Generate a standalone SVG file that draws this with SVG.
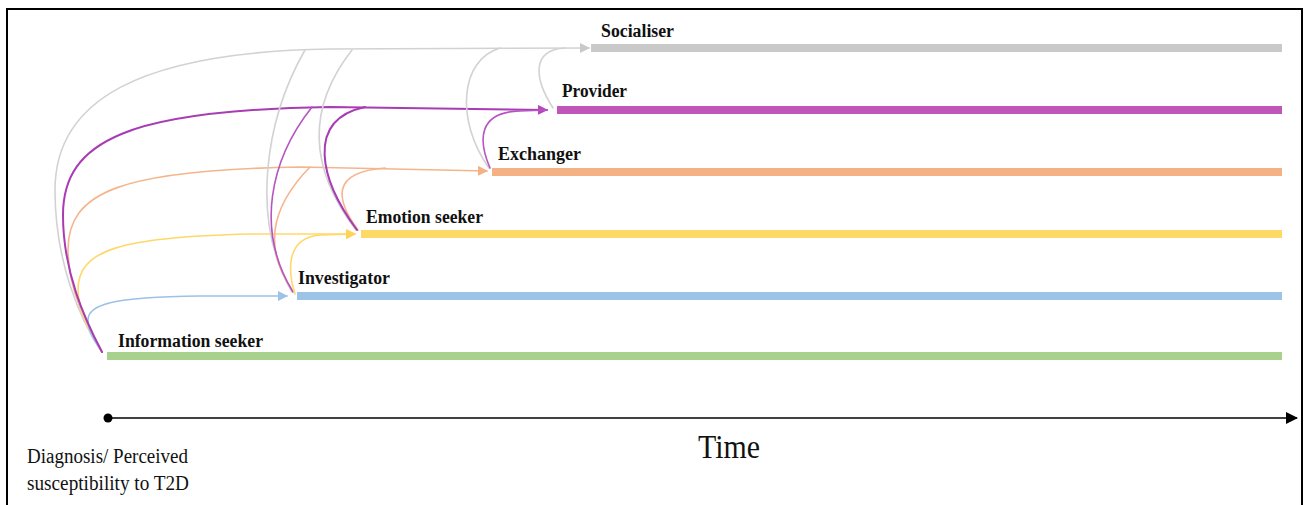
<svg xmlns="http://www.w3.org/2000/svg" width="1309" height="505" viewBox="0 0 1309 505">
  <defs>
    <style>
      .frame { fill: #ffffff; stroke: #000000; stroke-width: 2; }
      .bar { stroke-width: 8; fill: none; }
      .lbl { font-family: "Liberation Serif", "Times New Roman", serif; font-weight: bold; font-size: 18.5px; fill: #111111; }
      .note { font-family: "Liberation Serif", "Times New Roman", serif; font-size: 20px; fill: #111111; }
      .time { font-family: "Liberation Serif", "Times New Roman", serif; font-size: 34px; fill: #111111; }
      .c { fill: none; stroke-width: 1.6; stroke-linecap: round; }
      .gray { stroke: #d2d2d2; }
      .purple { stroke: #a83cb4; stroke-width: 2; }
      .purple2 { stroke: #b655c2; }
      .orange { stroke: #f5b58c; }
      .yellow { stroke: #ffd86a; }
      .blue { stroke: #9cc2e6; }
    </style>
    <marker id="ah-gray" markerWidth="10" markerHeight="10" refX="9" refY="5" orient="auto" markerUnits="userSpaceOnUse">
      <path d="M0,0 L10,5 L0,10 Z" fill="#c9c9c9"/>
    </marker>
    <marker id="ah-purple" markerWidth="10" markerHeight="10" refX="9" refY="5" orient="auto" markerUnits="userSpaceOnUse">
      <path d="M0,0 L10,5 L0,10 Z" fill="#b545bd"/>
    </marker>
    <marker id="ah-orange" markerWidth="10" markerHeight="10" refX="9" refY="5" orient="auto" markerUnits="userSpaceOnUse">
      <path d="M0,0 L10,5 L0,10 Z" fill="#f4b183"/>
    </marker>
    <marker id="ah-yellow" markerWidth="10" markerHeight="10" refX="9" refY="5" orient="auto" markerUnits="userSpaceOnUse">
      <path d="M0,0 L10,5 L0,10 Z" fill="#ffd35a"/>
    </marker>
    <marker id="ah-blue" markerWidth="10" markerHeight="10" refX="9" refY="5" orient="auto" markerUnits="userSpaceOnUse">
      <path d="M0,0 L10,5 L0,10 Z" fill="#9dc3e6"/>
    </marker>
    <marker id="ah-black" markerWidth="12" markerHeight="12" refX="11" refY="6" orient="auto" markerUnits="userSpaceOnUse">
      <path d="M0,0 L12,6 L0,12 Z" fill="#000000"/>
    </marker>
  </defs>

  <rect width="1309" height="505" fill="#ffffff"/>
  <rect class="frame" x="7" y="9" width="1295" height="510"/>

  <!-- transitions between roles -->
  <g id="connectors">
    <!-- from Information seeker -->
    <path class="c gray" d="M102,352 C 80,320 55,262 55,190 C 55,100 140,52 330,49 L 589,48" marker-end="url(#ah-gray)"/>
    <path class="c orange" d="M102,352 C 90,330 68,292 68,250 C 68,192 120,170 300,167 L 487,171" marker-end="url(#ah-orange)"/>
    <path class="c yellow" d="M102,352 C 92,335 78,312 78,290 C 78,250 120,237 250,234 L 355,234" marker-end="url(#ah-yellow)"/>
    <path class="c blue" d="M102,352 C 95,342 88,332 88,320 C 88,305 110,297 200,296 L 287,296" marker-end="url(#ah-blue)"/>
    <path class="c purple" d="M102,352 C 85,320 63,272 63,215 C 63,140 130,110 330,107 L 547,110" marker-end="url(#ah-purple)"/>

    <!-- from Investigator -->
    <path class="c gray" d="M292,292 C 250,220 265,120 305,50"/>
    <path class="c orange" d="M292,290 C 265,250 268,210 310,167"/>
    <path class="c purple2" d="M293,292 C 255,230 270,160 312,107"/>
    <path class="c yellow" d="M295,294 C 288,272 285,238 320,235 L 355,234" marker-end="url(#ah-yellow)"/>

    <!-- from Emotion seeker -->
    <path class="c gray" d="M356,230 C 310,170 305,110 352,50"/>
    <path class="c orange" d="M358,230 C 336,200 330,172 385,168"/>
    <path class="c purple" d="M357,230 C 320,180 305,120 365,107"/>

    <!-- from Exchanger -->
    <path class="c gray" d="M489,168 C 455,120 460,60 500,48"/>
    <path class="c purple2" d="M490,168 C 478,140 478,112 520,111 L 547,110"/>

    <!-- from Provider -->
    <path class="c gray" d="M553,108 C 535,80 530,50 565,48"/>
  </g>

  <g id="socialiser">
    <line class="bar" x1="591" y1="48" x2="1282" y2="48" stroke="#c9c9c9"/>
    <text class="lbl" x="601" y="37" textLength="73" lengthAdjust="spacingAndGlyphs">Socialiser</text>
  </g>
  <g id="provider">
    <line class="bar" x1="557" y1="110" x2="1282" y2="110" stroke="#c156ba"/>
    <text class="lbl" x="562" y="97" textLength="65" lengthAdjust="spacingAndGlyphs">Provider</text>
  </g>
  <g id="exchanger">
    <line class="bar" x1="492" y1="172" x2="1282" y2="172" stroke="#f4b183"/>
    <text class="lbl" x="498" y="160" textLength="83" lengthAdjust="spacingAndGlyphs">Exchanger</text>
  </g>
  <g id="emotion-seeker">
    <line class="bar" x1="361" y1="234" x2="1282" y2="234" stroke="#ffd966"/>
    <text class="lbl" x="366" y="223" textLength="117" lengthAdjust="spacingAndGlyphs">Emotion seeker</text>
  </g>
  <g id="investigator">
    <line class="bar" x1="297" y1="296" x2="1282" y2="296" stroke="#9dc3e6"/>
    <text class="lbl" x="298" y="284" textLength="92" lengthAdjust="spacingAndGlyphs">Investigator</text>
  </g>
  <g id="information-seeker">
    <line class="bar" x1="107" y1="356" x2="1282" y2="356" stroke="#a9d18e"/>
    <text class="lbl" x="118" y="347" textLength="145" lengthAdjust="spacingAndGlyphs">Information seeker</text>
  </g>

  <!-- time axis -->
  <g id="time-axis">
    <line x1="108" y1="418" x2="1297" y2="418" stroke="#000000" stroke-width="1.5" marker-end="url(#ah-black)"/>
    <circle cx="108" cy="418" r="4.5" fill="#000000"/>
    <text class="time" x="698" y="458" textLength="62" lengthAdjust="spacingAndGlyphs">Time</text>
    <text class="note" x="27" y="463" textLength="161" lengthAdjust="spacingAndGlyphs">Diagnosis/ Perceived</text>
    <text class="note" x="27" y="490" textLength="162" lengthAdjust="spacingAndGlyphs">susceptibility to T2D</text>
  </g>
</svg>
